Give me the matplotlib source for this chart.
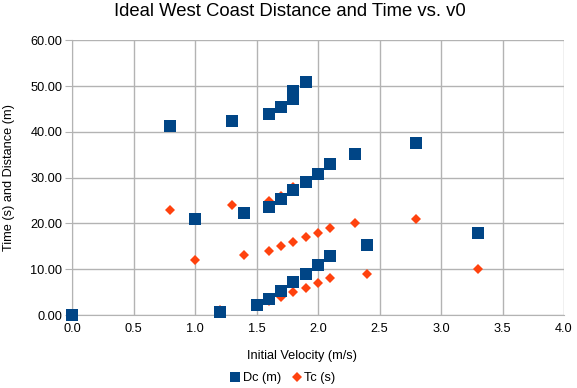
import matplotlib
matplotlib.use("Agg")
import matplotlib.pyplot as plt
from matplotlib.lines import Line2D

plt.rcParams['font.family'] = ['Liberation Sans', 'DejaVu Sans']

# Data
dc_v0 = [0.0, 0.8, 1.0, 1.2, 1.3, 1.4, 1.5, 1.6, 1.6, 1.6, 1.7, 1.7, 1.7,
         1.8, 1.8, 1.8, 1.8, 1.9, 1.9, 1.9, 2.0, 2.0, 2.1, 2.1, 2.3, 2.4, 2.8, 3.3]
dc_vals = [0.0, 41.2, 20.9, 0.65, 42.3, 22.2, 2.2, 43.8, 23.6, 3.6, 45.4, 25.4, 5.3,
           48.9, 47.1, 27.2, 7.1, 50.8, 29.0, 9.0, 30.8, 10.9, 32.9, 12.9, 35.1, 15.2, 37.5, 18.0]

tc_v0 = [0.0, 0.8, 1.0, 1.2, 1.3, 1.4, 1.5, 1.6, 1.6, 1.6, 1.7, 1.7, 1.7,
         1.8, 1.8, 1.8, 1.8, 1.9, 1.9, 1.9, 2.0, 2.0, 2.1, 2.1, 2.3, 2.4, 2.8, 3.3]
tc_vals = [0, 23, 12, 1, 24, 13, 2, 25, 14, 3, 26, 15, 4,
           28, 27, 16, 5, 29, 17, 6, 18, 7, 19, 8, 20, 9, 21, 10]

x_ticks = [0.0, 0.5, 1.0, 1.5, 2.0, 2.5, 3.0, 3.5, 4.0]
y_ticks = [0, 10, 20, 30, 40, 50, 60]

blue = '#004586'
orange = '#ff420e'
grid = '#b3b3b3'

W, H = 577, 388
fig = plt.figure(figsize=(W / 100, H / 100), dpi=100)
ax = fig.add_axes([72 / W, 1 - 315 / H, (564 - 72) / W, (315 - 40.3) / H])

ax.plot(tc_v0, tc_vals, linestyle='none', marker='D', markersize=5.4,
        color=orange, markeredgewidth=0, zorder=3, clip_on=False)
ax.plot(dc_v0, dc_vals, linestyle='none', marker='s', markersize=8.3,
        color=blue, markeredgewidth=0, zorder=4, clip_on=False)

ax.set_xlim(0, 4)
ax.set_ylim(0, 60)
ax.set_xticks(x_ticks)
ax.set_xticklabels([f'{v:.1f}' for v in x_ticks])
ax.set_yticks(y_ticks)
ax.set_yticklabels([f'{v:.2f}' for v in y_ticks])
ax.grid(True, color=grid, linewidth=1)
ax.set_axisbelow(True)
for s in ax.spines.values():
    s.set_visible(False)
ax.spines['left'].set_visible(True)
ax.spines['bottom'].set_visible(True)
ax.spines['left'].set_color(grid)
ax.spines['bottom'].set_color(grid)
ax.tick_params(axis='y', length=5, color=grid, labelsize=9.2, pad=2, labelcolor='black')
ax.tick_params(axis='x', length=0, labelsize=9.2, pad=6, labelcolor='black')

fig.text(290 / W, 1 - 12 / H, 'Ideal West Coast Distance and Time vs. v0',
         ha='center', va='center', fontsize=13.3)
fig.text(9 / W, 1 - 178 / H, 'Time (s) and Distance (m)', rotation=90,
         ha='center', va='center', fontsize=9.2)
fig.text(302 / W, 1 - 356 / H, 'Initial Velocity (m/s)',
         ha='center', va='center', fontsize=9.2)

handles = [Line2D([], [], linestyle='none', marker='s', markersize=7.5, color=blue, markeredgewidth=0),
           Line2D([], [], linestyle='none', marker='D', markersize=5.0, color=orange, markeredgewidth=0)]
fig.legend(handles, ['Dc (m)', 'Tc (s)'], loc='center', bbox_to_anchor=(283 / W, 1 - 378 / H),
           ncol=2, frameon=False, fontsize=9.2, handlelength=0.8, handletextpad=0.2,
           columnspacing=0.8, borderpad=0)

fig.savefig('out.png', dpi=100)
